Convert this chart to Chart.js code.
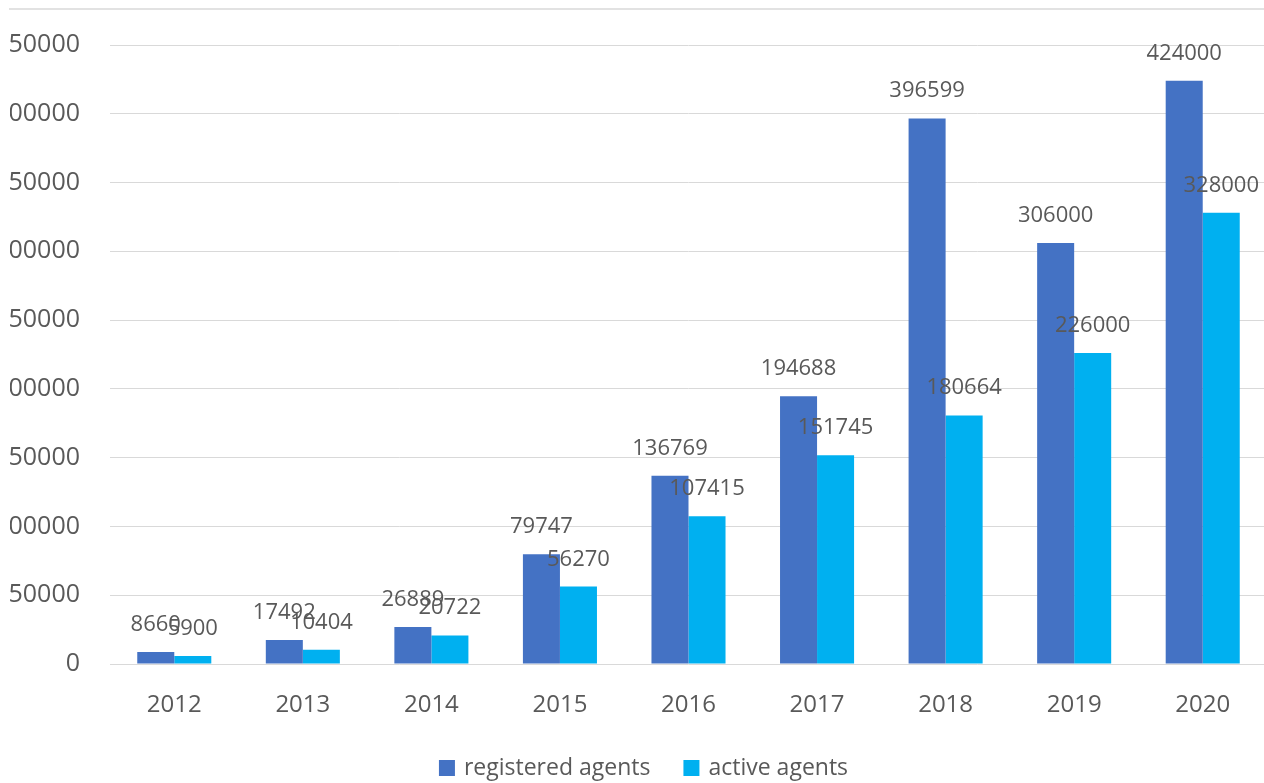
<!DOCTYPE html>
<html>
<head>
<meta charset="utf-8">
<title>Agents per year</title>
<script src="https://cdn.jsdelivr.net/npm/chart.js@4.4.1/dist/chart.umd.min.js"></script>
<style>
    html, body {
        margin: 0;
        padding: 0;
        background: #ffffff;
        overflow: hidden;
    }
    #frame {
        position: absolute;
        left: 9px;
        top: 0;
        width: 1255px;
        height: 783px;
        overflow: hidden;
    }
    #topRule {
        position: absolute;
        left: 0;
        right: 0;
        top: 8px;
        height: 2px;
        background: #e2e2e2;
    }
    #agentsChart {
        position: absolute;
        left: -9px;
        top: 0;
    }
</style>
</head>
<body>
<div id="frame">
    <div id="topRule"></div>
    <canvas id="agentsChart" width="1267" height="783"></canvas>
</div>
<script>
// Years on the x axis
const years = ['2012', '2013', '2014', '2015', '2016', '2017', '2018', '2019', '2020'];

// Registered and active agents per year
const registeredAgents = [8660, 17492, 26889, 79747, 136769, 194688, 396599, 306000, 424000];
const activeAgents = [5900, 10404, 20722, 56270, 107415, 151745, 180664, 226000, 328000];

// Y axis range and step
const yMax = 450000;
const yStep = 50000;

const textColor = '#595959';
const fontFamily = '"Open Sans", "Noto Sans", sans-serif';

// Writes the value above every bar
const barValueLabels = {
    id: 'barValueLabels',
    afterDatasetsDraw(chart) {
        const ctx = chart.ctx;
        ctx.save();
        ctx.font = '22px ' + fontFamily;
        ctx.fillStyle = textColor;
        ctx.textAlign = 'center';
        ctx.textBaseline = 'alphabetic';
        chart.data.datasets.forEach((dataset, i) => {
            const meta = chart.getDatasetMeta(i);
            meta.data.forEach((bar, index) => {
                ctx.fillText(String(dataset.data[index]), bar.x, bar.y - 21);
            });
        });
        ctx.restore();
    }
};

// Legend row under the axis: square swatch then label for each dataset
const bottomLegend = {
    id: 'bottomLegend',
    afterDraw(chart) {
        const ctx = chart.ctx;
        const box = 16;
        const textGap = 9;
        const itemGap = 33;
        const centerY = 768;
        ctx.save();
        ctx.font = '23px ' + fontFamily;
        ctx.textBaseline = 'middle';
        ctx.textAlign = 'left';
        const items = chart.data.datasets.map(ds => ({
            text: ds.label,
            color: ds.backgroundColor,
            width: box + textGap + ctx.measureText(ds.label).width
        }));
        const total = items.reduce((sum, it) => sum + it.width, 0) + itemGap * (items.length - 1);
        let x = chart.width / 2 + 10 - total / 2;
        items.forEach(it => {
            ctx.fillStyle = it.color;
            ctx.fillRect(x, centerY - box / 2, box, box);
            ctx.fillStyle = textColor;
            ctx.fillText(it.text, x + box + textGap, centerY);
            x += it.width + itemGap;
        });
        ctx.restore();
    }
};

const ctx = document.getElementById('agentsChart').getContext('2d');
const agentsChart = new Chart(ctx, {
    type: 'bar',
    data: {
        labels: years,
        datasets: [
            {
                label: 'registered agents',
                data: registeredAgents,
                backgroundColor: '#4472C4',
                categoryPercentage: 0.576,
                barPercentage: 1
            },
            {
                label: 'active agents',
                data: activeAgents,
                backgroundColor: '#00B0F0',
                categoryPercentage: 0.576,
                barPercentage: 1
            }
        ]
    },
    options: {
        responsive: false,
        animation: false,
        layout: {
            padding: { left: 10, right: 0, top: 43, bottom: 59 }
        },
        plugins: {
            tooltip: { enabled: false },
            title: { display: false },
            legend: { display: false }
        },
        scales: {
            x: {
                grid: { display: false, drawTicks: false },
                border: { display: false },
                ticks: {
                    color: textColor,
                    padding: 27,
                    autoSkip: false,
                    maxRotation: 0,
                    font: { family: fontFamily, size: 24 }
                },
                afterFit(scale) {
                    scale.height = 60;
                }
            },
            y: {
                min: 0,
                max: yMax,
                border: { display: false },
                grid: {
                    color: '#d9d9d9',
                    lineWidth: 1,
                    drawTicks: false
                },
                ticks: {
                    stepSize: yStep,
                    color: textColor,
                    padding: 30,
                    font: { family: fontFamily, size: 25 },
                    callback: value => String(value)
                },
                afterFit(scale) {
                    scale.width = 100;
                }
            }
        }
    },
    plugins: [barValueLabels, bottomLegend]
});
</script>
</body>
</html>
